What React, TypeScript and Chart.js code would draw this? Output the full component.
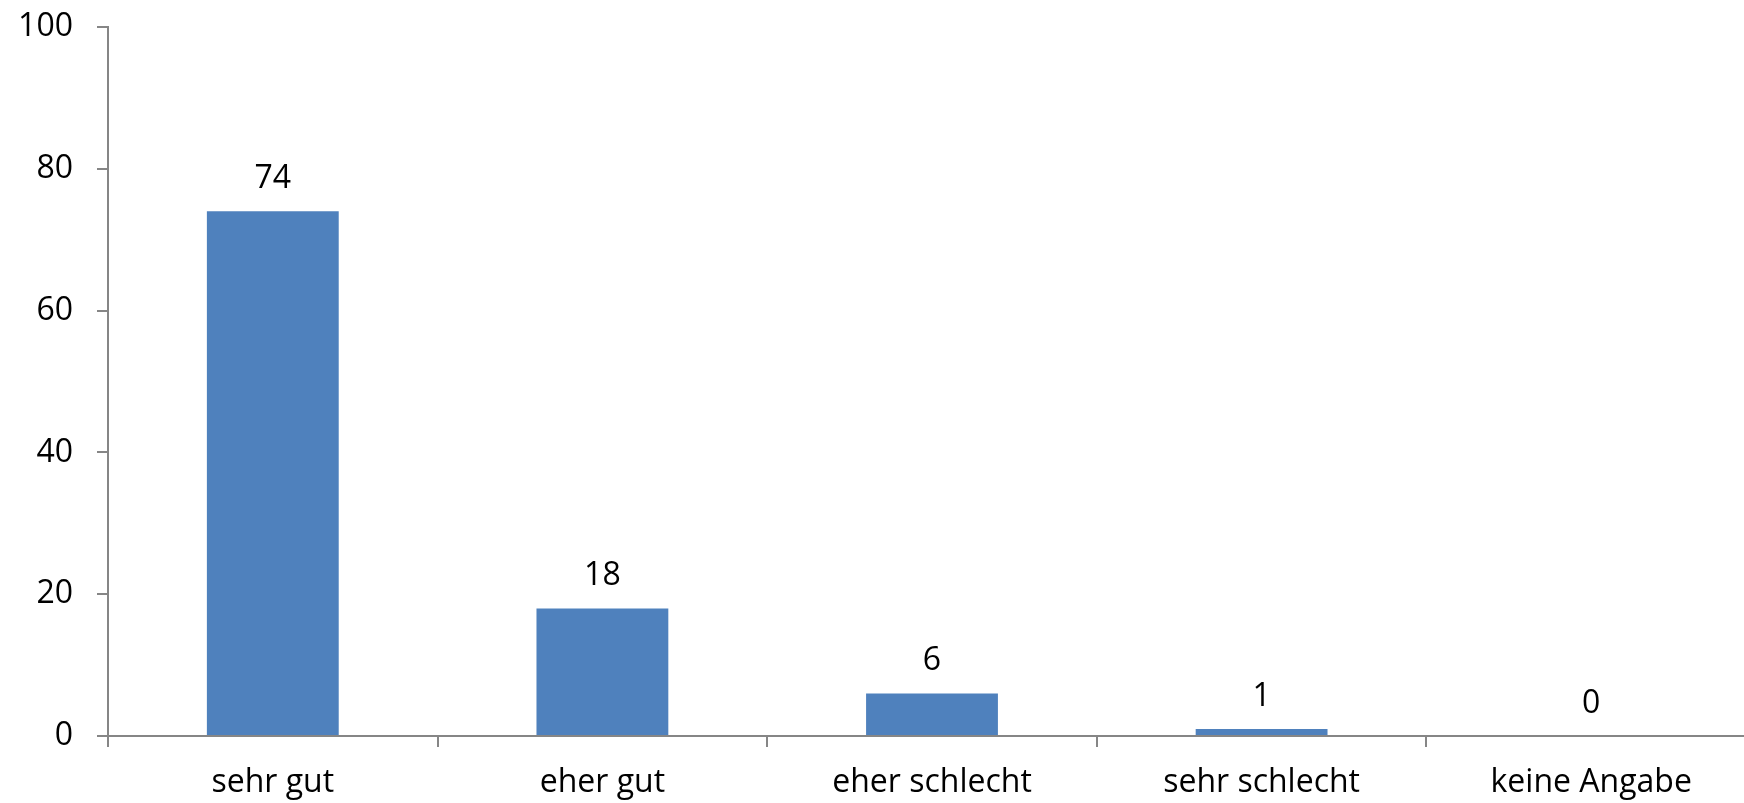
import React, { useEffect, useRef } from "react";
import { Chart, registerables } from "chart.js";

Chart.register(...registerables);

const categories = ["sehr gut", "eher gut", "eher schlecht", "sehr schlecht", "keine Angabe"];
const values = [74, 18, 6, 1, 0];
const yTicks = [0, 20, 40, 60, 80, 100];

const FONT = "'Open Sans', sans-serif";
const AXIS = "#868686";
const FS = 32;

const valueLabels = {
  id: "valueLabels",
  afterDatasetsDraw(chart: any) {
    const ctx = chart.ctx;
    const meta = chart.getDatasetMeta(0);
    ctx.save();
    ctx.fillStyle = "#000";
    ctx.font = `${FS}px ${FONT}`;
    ctx.textAlign = "center";
    ctx.textBaseline = "alphabetic";
    meta.data.forEach((bar: any, i: number) => {
      const v = values[i];
      ctx.fillText(String(v), bar.x, bar.y - 23);
    });
    ctx.restore();
  },
};

export default function App() {
  const ref = useRef<HTMLCanvasElement | null>(null);
  useEffect(() => {
    if (!ref.current) return;
    const chart = new Chart(ref.current, {
      type: "bar",
      data: {
        labels: categories,
        datasets: [
          {
            data: values,
            backgroundColor: "#4F81BD",
            borderWidth: 0,
            categoryPercentage: 1,
            barPercentage: 0.4,
          },
        ],
      },
      options: {
        animation: false,
        responsive: false,
        maintainAspectRatio: false,
        layout: { padding: { left: 0, top: 27, right: 0, bottom: 0 } },
        plugins: { legend: { display: false }, tooltip: { enabled: false } },
        scales: {
          x: {
            offset: true,
            grid: {
              offset: true,
              drawOnChartArea: false,
              drawTicks: true,
              tickLength: 11,
              color: AXIS,
              lineWidth: 2,
            },
            border: { color: AXIS, width: 2 },
            ticks: { color: "#000", font: { family: FONT, size: FS }, padding: 17 },
            afterFit(scale: any) {
              scale.height = 67;
              scale.paddingLeft = 0;
              scale.paddingRight = 0;
            },
          },
          y: {
            min: 0,
            max: 100,
            afterBuildTicks(scale: any) {
              scale.ticks = yTicks.map((v) => ({ value: v }));
            },
            grid: {
              drawOnChartArea: false,
              drawTicks: true,
              tickLength: 11,
              color: AXIS,
              lineWidth: 2,
            },
            border: { color: AXIS, width: 2 },
            ticks: { color: "#000", font: { family: FONT, size: FS }, padding: 24 },
            afterFit(scale: any) {
              scale.width = 108;
              scale.paddingTop = 0;
              scale.paddingBottom = 0;
            },
          },
        },
      },
      plugins: [valueLabels],
    });
    return () => chart.destroy();
  }, []);
  return (
    <div
      style={{
        position: "fixed",
        left: 0,
        top: 0,
        width: 1744,
        height: 803,
        overflow: "hidden",
        background: "#fff",
      }}
    >
      <canvas ref={ref} width={1756} height={803} style={{ display: "block" }} />
    </div>
  );
}
